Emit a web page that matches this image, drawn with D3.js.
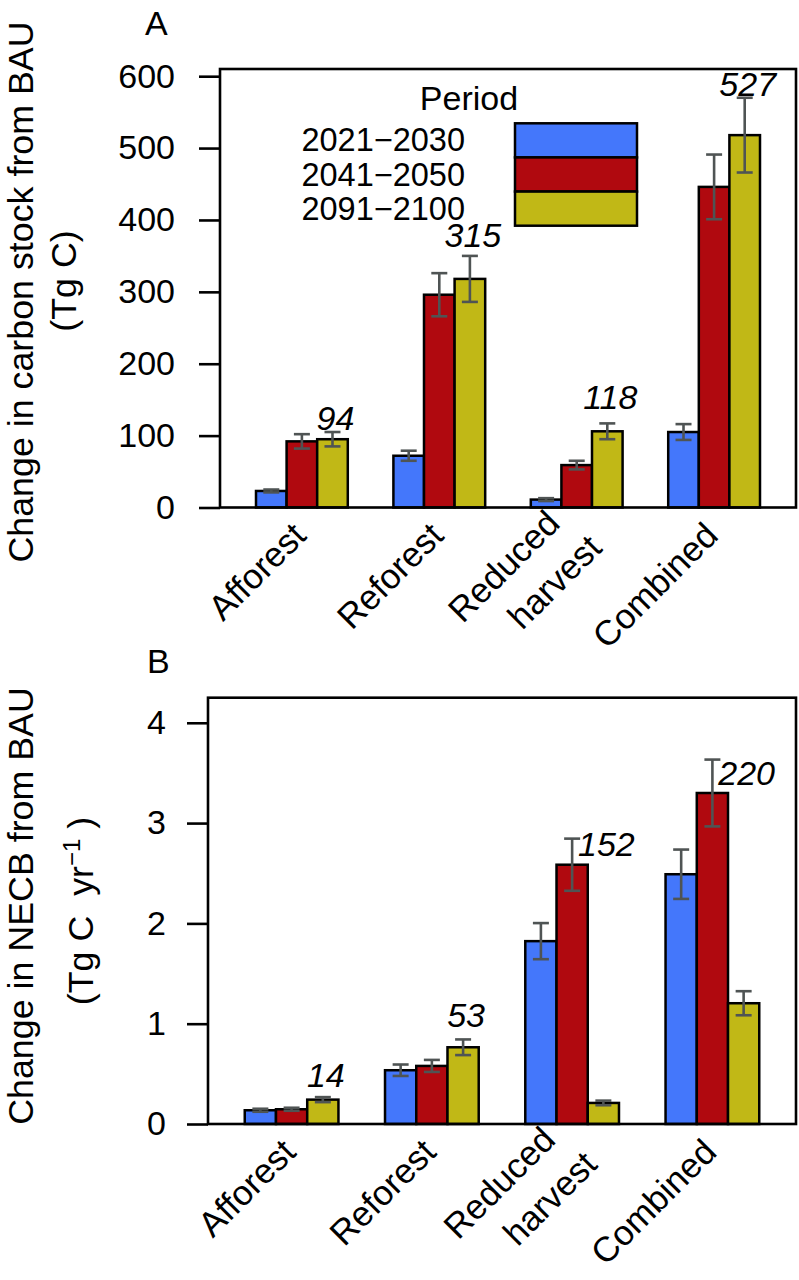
<!DOCTYPE html>
<html>
<head>
<meta charset="utf-8">
<script src="https://cdn.jsdelivr.net/npm/d3@7"></script>
<style>
  html, body { margin: 0; padding: 0; background: #ffffff; }
  svg { display: block; }
  text { font-family: "Liberation Sans", Arial, Helvetica, sans-serif; fill: #000; }
</style>
</head>
<body>
<svg id="chart" width="799" height="1280"></svg>
<script>
// ---------------- data ----------------
const categories = ["Afforest", "Reforest", "Reduced\nharvest", "Combined"];
const periods = ["2021\u22122030", "2041\u22122050", "2091\u22122100"];
const periodColors = ["#4477fb", "#b0090f", "#c1b816"];

// Panel A: change in carbon stock from BAU (Tg C)
const stock2021 = [23, 72, 11, 105];
const stock2041 = [92, 296, 59, 446];
const stock2091 = [95, 318, 106, 518];
const stockErr2021 = [2, 7, 2, 11];
const stockErr2041 = [10, 30, 6, 45];
const stockErr2091 = [10, 32, 11, 52];
const stockLabels = ["94", "315", "118", "527"];
const stockLabelAt = [108, 363, 137, 572];
const stockTicks = [0, 100, 200, 300, 400, 500, 600];

// Panel B: change in NECB from BAU (Tg C yr-1)
const necb2021 = [0.137, 0.536, 1.823, 2.49];
const necb2041 = [0.147, 0.579, 2.585, 3.30];
const necb2091 = [0.243, 0.765, 0.21, 1.204];
const necbErr2021 = [0.015, 0.057, 0.18, 0.246];
const necbErr2041 = [0.015, 0.06, 0.26, 0.333];
const necbErr2091 = [0.025, 0.078, 0.023, 0.12];
const necbLabels = ["14", "53", "152", "220"];
const necbLabelAt = [0.373, 0.971, 2.668, 3.376];
const necbTicks = [0, 1, 2, 3, 4];

// ---------------- drawing ----------------
const svg = d3.select("#chart");
const FS = 34;      // tick / value label size
const FS_CAT = 35;  // category label size
const FS_TITLE = 35.8;

function panel(cfg) {
  const g = svg.append("g");
  const x = d3.scaleBand().domain(categories)
    .range([cfg.left, cfg.right]).paddingInner(0.332).paddingOuter(0.262);
  const xi = d3.scaleBand().domain(periods).range([0, x.bandwidth()]);
  const y = d3.scaleLinear().domain(cfg.yDomain).range([cfg.bottom, cfg.top]);

  const rows = [];
  categories.forEach((c, i) => {
    periods.forEach((p, j) => {
      rows.push({ c, p, j, v: cfg.values[j][i], e: cfg.errors[j][i] });
    });
  });

  // bars
  g.selectAll("rect.bar").data(rows).join("rect")
    .attr("class", "bar")
    .attr("x", d => x(d.c) + xi(d.p))
    .attr("width", xi.bandwidth())
    .attr("y", d => y(d.v))
    .attr("height", d => y(0) - y(d.v))
    .attr("fill", d => periodColors[d.j])
    .attr("stroke", "#000").attr("stroke-width", 2.5);

  // error bars
  const eg = g.selectAll("g.err").data(rows).join("g").attr("class", "err")
    .attr("stroke", "#4f5454").attr("stroke-width", 2.6).attr("fill", "none");
  const cx = d => x(d.c) + xi(d.p) + xi.bandwidth() / 2;
  eg.append("line").attr("x1", cx).attr("x2", cx)
    .attr("y1", d => y(d.v + d.e)).attr("y2", d => y(d.v - d.e));
  eg.append("line").attr("x1", d => cx(d) - 8).attr("x2", d => cx(d) + 8)
    .attr("y1", d => y(d.v + d.e)).attr("y2", d => y(d.v + d.e));
  eg.append("line").attr("x1", d => cx(d) - 8).attr("x2", d => cx(d) + 8)
    .attr("y1", d => y(d.v - d.e)).attr("y2", d => y(d.v - d.e));

  // value labels (italic) over the 3rd period bar
  g.selectAll("text.vlab").data(categories).join("text")
    .attr("class", "vlab")
    .attr("x", (c) => x(c) + xi(periods[2]) + xi.bandwidth() / 2 + 3)
    .attr("y", (c, i) => y(cfg.labelAt[i]))
    .attr("text-anchor", "middle")
    .attr("font-style", "italic")
    .attr("font-size", FS)
    .text((c, i) => cfg.labels[i]);

  // frame
  g.append("rect")
    .attr("x", cfg.left).attr("y", cfg.top)
    .attr("width", cfg.right - cfg.left).attr("height", cfg.bottom - cfg.top)
    .attr("fill", "none").attr("stroke", "#000").attr("stroke-width", 2.6);

  // y axis
  const ax = g.append("g").attr("transform", `translate(${cfg.left},0)`)
    .call(d3.axisLeft(y).tickValues(cfg.ticks).tickSize(21).tickPadding(cfg.tickPad).tickFormat(d3.format("d")));
  ax.select(".domain").remove();
  ax.selectAll(".tick line").attr("stroke", "#000").attr("stroke-width", 2.6);
  ax.selectAll(".tick text").attr("font-size", FS)
    .attr("font-family", "Liberation Sans, Arial, sans-serif").attr("fill", "#000");

  // category labels rotated 45
  const L = 1.34 * FS_CAT;
  categories.forEach(c => {
    const lines = c.split("\n");
    const px = x(c) + x.bandwidth() / 2 + cfg.labDx;
    const py = cfg.bottom + cfg.labDy;
    const t = g.append("text")
      .attr("transform", `translate(${px},${py}) rotate(-45)`)
      .attr("text-anchor", "end").attr("font-size", FS_CAT);
    lines.forEach((ln, k) => {
      const n = lines.length;
      t.append("tspan")
        .attr("x", n > 1 ? (k === 0 ? -6 : 6) : 0)
        .attr("dy", k === 0 ? -(n - 1) * L / 2 : L)
        .text(ln);
    });
  });

  // panel letter
  g.append("text").attr("x", cfg.letterX).attr("y", cfg.letterY)
    .attr("font-size", FS).text(cfg.letter);

  // y titles
  g.append("text").attr("transform", `translate(33,${cfg.title1Y}) rotate(-90)`)
    .attr("text-anchor", "middle").attr("font-size", FS_TITLE).text(cfg.title1);
  const t2 = g.append("text").attr("transform", `translate(${cfg.title2X},${cfg.title2Y}) rotate(-90)`)
    .attr("text-anchor", "middle").attr("font-size", FS_TITLE)
    .attr("xml:space", "preserve").style("white-space", "pre");
  cfg.title2(t2);

  return { x, y };
}

panel({
  left: 220, right: 796, top: 69, bottom: 507.5, yDomain: [0, 610],
  values: [stock2021, stock2041, stock2091],
  errors: [stockErr2021, stockErr2041, stockErr2091],
  labels: stockLabels, labelAt: stockLabelAt, ticks: stockTicks, tickPad: 24,
  labDx: 6, labDy: 30, letter: "A", letterX: 145, letterY: 35,
  title1: "Change in carbon stock from BAU", title1Y: 292,
  title2X: 76, title2Y: 281,
  title2: t => t.text("(Tg C)")
});

panel({
  left: 208, right: 796, top: 697.7, bottom: 1124, yDomain: [0, 4.25],
  values: [necb2021, necb2041, necb2091],
  errors: [necbErr2021, necbErr2041, necbErr2091],
  labels: necbLabels, labelAt: necbLabelAt, ticks: necbTicks, tickPad: 21,
  labDx: 6, labDy: 30, letter: "B", letterX: 147, letterY: 673,
  title1: "Change in NECB from BAU", title1Y: 906,
  title2X: 93, title2Y: 911,
  title2: t => {
    t.append("tspan").text("(Tg C  yr");
    t.append("tspan").attr("dy", -13).attr("font-size", 24).text("\u22121");
    t.append("tspan").attr("dy", 13).text(" )");
  }
});

// legend (panel A)
const lg = svg.append("g");
lg.append("text").attr("x", 469).attr("y", 110).attr("text-anchor", "middle")
  .attr("font-size", FS).text("Period");
const boxY = d3.scaleBand().domain(periods).range([123.3, 225.7]);
lg.selectAll("rect").data(periods).join("rect")
  .attr("x", 515).attr("width", 122)
  .attr("y", d => boxY(d)).attr("height", boxY.bandwidth())
  .attr("fill", (d, i) => periodColors[i])
  .attr("stroke", "#000").attr("stroke-width", 2.5);
lg.selectAll("text.lt").data(periods).join("text").attr("class", "lt")
  .attr("x", 465).attr("y", d => boxY(d) + boxY.bandwidth() / 2)
  .attr("dominant-baseline", "central")
  .attr("text-anchor", "end").attr("font-size", 32.5).text(d => d);
</script>
</body>
</html>
